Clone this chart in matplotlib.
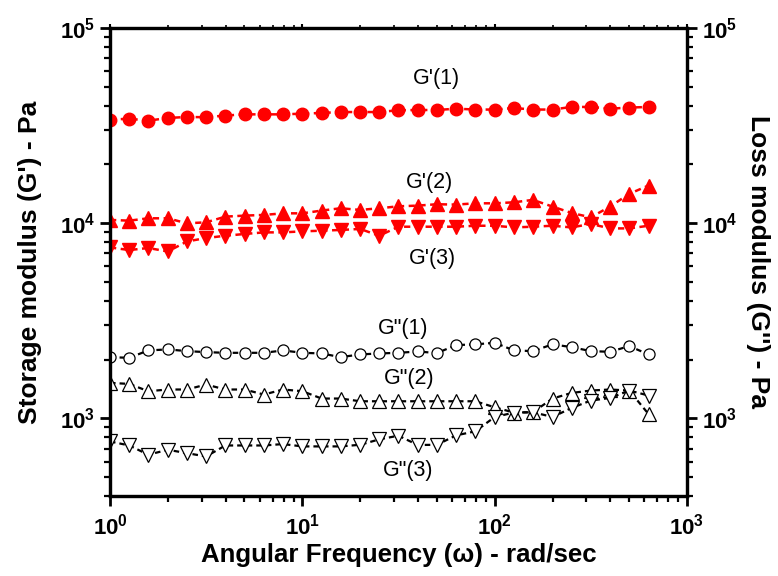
import math
import matplotlib
matplotlib.use("Agg")
import matplotlib.pyplot as plt
from matplotlib.ticker import LogLocator, FuncFormatter, NullFormatter

plt.rcParams['font.family'] = ['Liberation Sans', 'DejaVu Sans']
plt.rcParams['mathtext.fontset'] = 'custom'
plt.rcParams['mathtext.rm'] = 'Liberation Sans'
plt.rcParams['mathtext.bf'] = 'Liberation Sans:bold'

# Angular frequency (rad/s)
freq = [1.0, 1.26, 1.58, 2.0, 2.51, 3.16, 3.98, 5.01, 6.31, 7.94,
        10.0, 12.6, 15.8, 20.0, 25.1, 31.6, 39.8, 50.1, 63.1, 79.4,
        100, 126, 158, 200, 251, 316, 398, 501, 631]

# storage modulus G' (Pa)
g1_store = [33900, 34300, 33500, 34600, 35000, 34900, 35600, 36100, 36100, 36100,
            36400, 36700, 37100, 37100, 37100, 37900, 38000, 38000, 38600, 38200,
            38200, 38900, 38200, 38200, 39400, 39400, 38600, 39100, 39400]
g2_store = [10390, 10300, 10590, 10590, 9980, 10100, 10800, 10930, 11020, 11230,
            11230, 11600, 11920, 11690, 11920, 12200, 12300, 12500, 12450, 12640,
            12640, 12790, 13160, 12160, 11280, 10710, 12160, 14130, 15590]
g3_store = [7510, 7280, 7460, 7160, 8060, 8390, 8620, 8800, 8970, 8970,
            9080, 9150, 9230, 9340, 8620, 9590, 9590, 9590, 9590, 9700,
            9700, 9510, 9590, 9700, 9510, 9910, 9400, 9400, 9700]

# loss modulus G'' (Pa)
g1_loss = [2058, 2042, 2228, 2255, 2210, 2184, 2166, 2166, 2166, 2228,
           2166, 2150, 2058, 2125, 2150, 2166, 2200, 2160, 2373, 2393,
           2439, 2228, 2210, 2393, 2317, 2210, 2192, 2345, 2125]
g2_loss = [1519, 1501, 1377, 1405, 1405, 1490, 1405, 1405, 1324, 1405,
           1377, 1263, 1263, 1223, 1223, 1223, 1223, 1223, 1223, 1223,
           1139, 1070, 1075, 1263, 1349, 1388, 1405, 1388, 1052]
g3_loss = [761, 726, 651, 690, 663, 638, 726, 726, 726, 738,
           718, 718, 718, 732, 780, 815, 730, 732, 818, 858,
           1016, 1070, 1075, 1016, 1130, 1233, 1272, 1388, 1309]

# curve labels: text, x, y
curve_labels = [("G'(1)", 49.6, 55300), ("G'(2)", 46.1, 16200), ("G'(3)", 47.2, 6570),
                ('G"(1)', 33.4, 2870), ('G"(2)', 35.9, 1606), ('G"(3)', 35.4, 541)]

fig = plt.figure(figsize=(7.78, 5.76), dpi=100)
ax = fig.add_axes([0.1414, 0.1389, 0.7416, 0.8125])
ax2 = ax.twinx()

dash = (0, (2.5, 1.8))
ax.plot(freq, g1_store, color='red', ls=dash, lw=1.8, marker='o', ms=9, mec='red', mfc='red')
ax.plot(freq, g2_store, color='red', ls=dash, lw=1.8, marker='^', ms=9.5, mec='red', mfc='red')
ax.plot(freq, g3_store, color='red', ls=dash, lw=1.8, marker='v', ms=9.5, mec='red', mfc='red')

ax2.plot(freq, g1_loss, color='black', ls=dash, lw=1.6, marker='o', ms=8, mec='black', mfc='white', mew=0.9)
ax2.plot(freq, g2_loss, color='black', ls=dash, lw=1.6, marker='^', ms=9.5, mec='black', mfc='white', mew=0.9)
ax2.plot(freq, g3_loss, color='black', ls=dash, lw=1.6, marker='v', ms=9.5, mec='black', mfc='white', mew=0.9)

for a in (ax, ax2):
    a.set_xscale('log')
    a.set_yscale('log')
    a.set_xlim(1, 1000)
    a.set_ylim(400, 1e5)
    a.yaxis.set_major_locator(LogLocator(base=10, numticks=10))
    a.yaxis.set_minor_locator(LogLocator(base=10, subs=range(2, 10), numticks=10))
    a.yaxis.set_minor_formatter(NullFormatter())
    for s in a.spines.values():
        s.set_linewidth(2.3)

fmt = FuncFormatter(lambda v, p: r'$\mathbf{10^{%d}}$' % round(math.log10(v)))
ax.xaxis.set_major_formatter(fmt)
ax.xaxis.set_minor_formatter(NullFormatter())
ax.yaxis.set_major_formatter(fmt)
ax2.yaxis.set_major_formatter(fmt)

ax.tick_params(axis='both', which='major', direction='out', length=7, width=2, labelsize=16)
ax.tick_params(axis='both', which='minor', direction='out', length=4.5, width=1.6)
ax.tick_params(axis='x', which='major', pad=6)
ax2.tick_params(axis='y', which='major', direction='out', length=7, width=2, labelsize=16)
ax2.tick_params(axis='y', which='minor', direction='out', length=4.5, width=1.6)

# short ticks along the top edge
top = ax.secondary_xaxis('top')
top.tick_params(which='major', direction='out', length=3, width=1.5, labeltop=False)
top.tick_params(which='minor', direction='out', length=2, width=1.2)
top.xaxis.set_major_formatter(NullFormatter())
top.xaxis.set_minor_formatter(NullFormatter())

for txt, xv, yv in curve_labels:
    ax.text(xv, yv, txt, fontsize=15.5, ha='center', va='center')

ax.set_xlabel('Angular Frequency (\u03c9) - rad/sec', fontsize=18.6, fontweight='bold', labelpad=2)
ax.set_ylabel("Storage modulus (G') - Pa", fontsize=19, fontweight='bold', labelpad=13)
ax2.set_ylabel("Loss modulus (G'') - Pa", fontsize=19, fontweight='bold', rotation=270, labelpad=24)

fig.savefig('out.png', dpi=100)
